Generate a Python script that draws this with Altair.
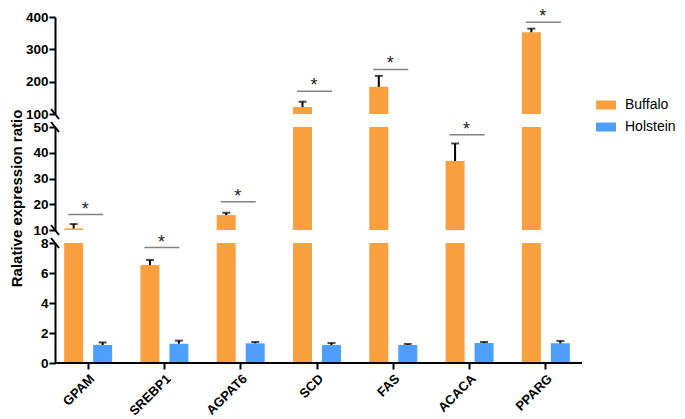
import altair as alt
import pandas as pd

genes = ["GPAM", "SREBP1", "AGPAT6", "SCD", "FAS", "ACACA", "PPARG"]
groups = ["Buffalo", "Holstein"]
buffalo = [10.6, 6.53, 15.8, 121.5, 184, 36.8, 353]
buffalo_sem = [1.7, 0.34, 0.9, 16.5, 34, 6.8, 11]
holstein = [1.2, 1.29, 1.31, 1.2, 1.2, 1.33, 1.31]
holstein_sem = [0.17, 0.2, 0.09, 0.13, 0.07, 0.07, 0.16]
sig_level = [16, 7.7, 21, 170, 238, 47, 384]
sig_panel = ["mid", "low", "mid", "top", "top", "mid", "top"]

rows = []
for i, g in enumerate(genes):
    rows.append(dict(gene=g, group="Buffalo", value=buffalo[i], hi=buffalo[i] + buffalo_sem[i]))
    rows.append(dict(gene=g, group="Holstein", value=holstein[i], hi=holstein[i] + holstein_sem[i]))
df = pd.DataFrame(rows)
sig_df = pd.DataFrame(dict(gene=genes, sig=sig_level, panel=sig_panel))
one = pd.DataFrame({"k": [0]})

ORANGE = "#FBA03E"
BLUE = "#4D9EFF"
FONT = "Liberation Sans"
W = 527


def make_panel(key, domain, ticks, h, bottom=False, with_title=False, breaks=()):
    if bottom:
        xaxis = alt.Axis(labelAngle=-45, labelFont=FONT, labelFontSize=13, labelFontWeight="bold",
                         labelColor="black", domain=False, tickColor="black", tickWidth=2, tickSize=6,
                         labelPadding=3)
    else:
        xaxis = None
    xenc = alt.X("gene:N", sort=genes, title=None, axis=xaxis,
                 scale=alt.Scale(range=[-5, 529], paddingInner=0, paddingOuter=0))
    xoff = alt.XOffset("group:N", sort=groups,
                       scale=alt.Scale(paddingInner=0.345, paddingOuter=0.4885))
    ykw = dict(values=ticks, labelFont=FONT, labelFontSize=13.5, labelFontWeight="bold",
               labelColor="black", domainColor="black", domainWidth=2, tickColor="black",
               tickWidth=2, tickSize=6, labelPadding=1, grid=False)
    if with_title:
        yaxis = alt.Axis(titleFont=FONT, titleFontSize=15, titleFontWeight="bold", titleColor="black",
                         titleX=-31, titleY=71, titleAngle=-90, titleAlign="center",
                         titleBaseline="bottom", **ykw)
        ytitle = "Ralative expression ratio"
    else:
        yaxis = alt.Axis(**ykw)
        ytitle = None
    yscale = alt.Scale(domain=domain, zero=False, nice=False)

    def Y(f):
        return alt.Y(f + ":Q", scale=yscale, axis=yaxis, title=ytitle)

    color = alt.Color("group:N", sort=groups, scale=alt.Scale(domain=groups, range=[ORANGE, BLUE]),
                      legend=alt.Legend(orient="none", legendX=541, legendY=78, title=None,
                                        symbolType="M-1,-0.45H1V0.45H-1Z", symbolSize=400,
                                        symbolStrokeWidth=0, symbolOpacity=1, labelFont=FONT,
                                        labelFontSize=14, labelColor="black", labelOffset=9,
                                        rowPadding=5, padding=0))

    bars = alt.Chart(df).mark_bar(clip=True).encode(x=xenc, xOffset=xoff, y=Y("value"), color=color)
    err = alt.Chart(df).mark_rule(clip=True, color="black", strokeWidth=2).encode(
        x=xenc, xOffset=xoff, y=Y("value"), y2="hi:Q")
    cap = alt.Chart(df).mark_tick(clip=True, color="black", orient="horizontal", size=8,
                                  thickness=2).encode(x=xenc, xOffset=xoff, y=Y("hi"))
    sigline = alt.Chart(sig_df).transform_filter(alt.datum.panel == key).mark_tick(
        orient="horizontal", size=35, thickness=1.5, color="#4d4d4d", xOffset=-2.5).encode(
        x=xenc, y=Y("sig"))
    star = alt.Chart(sig_df).transform_filter(alt.datum.panel == key).mark_text(
        text="*", font=FONT, fontSize=18, color="#222222", dx=-3, dy=0, baseline="alphabetic").encode(
        x=xenc, y=Y("sig"))
    layers = [bars, err, cap, sigline, star]
    for yy in breaks:
        layers.append(alt.Chart(one).mark_rule(color="black", strokeWidth=2).encode(
            x=alt.value(-4), x2=alt.value(4), y=alt.value(yy - 5), y2=alt.value(yy + 5)))
    if bottom:
        layers.append(alt.Chart(one).mark_rule(color="black", strokeWidth=2).encode(
            x=alt.value(0), x2=alt.value(W), y=alt.value(h)))
    return alt.layer(*layers).properties(width=W, height=h)


top = make_panel("top", [100, 400], [100, 200, 300, 400], 97, breaks=(97,))
mid = make_panel("mid", [10, 50], [10, 20, 30, 40, 50], 103, with_title=True, breaks=(0, 103))
low = make_panel("low", [0, 8], [0, 2, 4, 6, 8], 120, bottom=True, breaks=(0,))

chart = alt.vconcat(top, mid, low, spacing=13, bounds="flush").resolve_scale(
    y="independent", x="independent", xOffset="independent", color="shared"
).configure_view(stroke=None).properties(
    padding={"left": 0, "top": 0, "right": 0, "bottom": 0}, background="white")

chart.save("out.html", embed_options={"renderer": "svg", "actions": False})
